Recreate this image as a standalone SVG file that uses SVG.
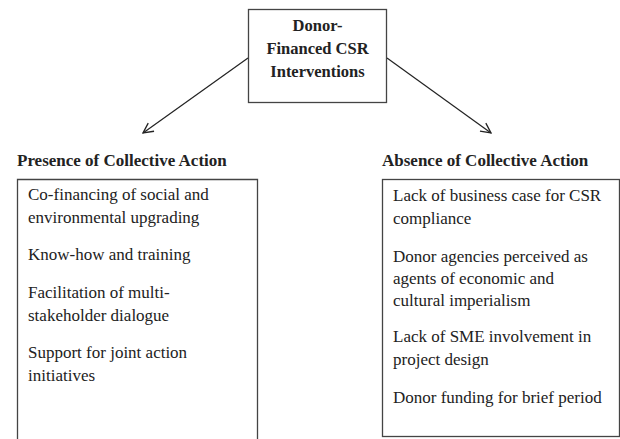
<svg xmlns="http://www.w3.org/2000/svg" width="620" height="439" viewBox="0 0 620 439">
<style>
text{font-family:"Liberation Serif","Times New Roman",serif;fill:#222;}
.b{font-weight:bold;font-size:17px;}
.t{font-weight:bold;font-size:16.5px;text-anchor:middle;}
.r{font-size:17px;}
.box{fill:#fff;stroke:#444;stroke-width:1.3;}
.edge{fill:none;stroke:#222;stroke-width:1.2;}
</style>
<defs>
<marker id="arr" viewBox="0 0 12 12" refX="11" refY="6" markerWidth="12" markerHeight="12" markerUnits="userSpaceOnUse" orient="auto">
<path d="M1,1 L11,6 L1,11" fill="none" stroke="#222" stroke-width="1.3"/>
</marker>
</defs>
<rect width="620" height="439" fill="#fff"/>
<g id="connectors">
<line class="edge" x1="248" y1="58" x2="143" y2="133" marker-end="url(#arr)"/>
<line class="edge" x1="387" y1="58" x2="491" y2="133" marker-end="url(#arr)"/>
</g>
<g id="donor">
<rect class="box" x="248.5" y="9.5" width="138" height="93"/>
<text class="t" x="317.5" y="31">Donor-</text>
<text class="t" x="317.5" y="54">Financed CSR</text>
<text class="t" x="317.5" y="77">Interventions</text>
</g>
<g id="presence">
<text class="b" x="17" y="166">Presence of Collective Action</text>
<path class="box" d="M17.5,440 V179.5 H257.5 V440"/>
<text class="r" x="28" y="200">Co-financing of social and</text>
<text class="r" x="28" y="222.5">environmental upgrading</text>
<text class="r" x="28" y="260">Know-how and training</text>
<text class="r" x="28" y="298">Facilitation of multi-</text>
<text class="r" x="28" y="320.5">stakeholder dialogue</text>
<text class="r" x="28" y="358">Support for joint action</text>
<text class="r" x="28" y="380.5">initiatives</text>
</g>
<g id="absence">
<text class="b" x="382" y="166">Absence of Collective Action</text>
<rect class="box" x="382.5" y="179.5" width="237" height="257"/>
<text class="r" x="393" y="201">Lack of business case for CSR</text>
<text class="r" x="393" y="223.5">compliance</text>
<text class="r" x="393" y="261.5">Donor agencies perceived as</text>
<text class="r" x="393" y="283.5">agents of economic and</text>
<text class="r" x="393" y="305.5">cultural imperialism</text>
<text class="r" x="393" y="342">Lack of SME involvement in</text>
<text class="r" x="393" y="364.5">project design</text>
<text class="r" x="393" y="403">Donor funding for brief period</text>
</g>
</svg>
